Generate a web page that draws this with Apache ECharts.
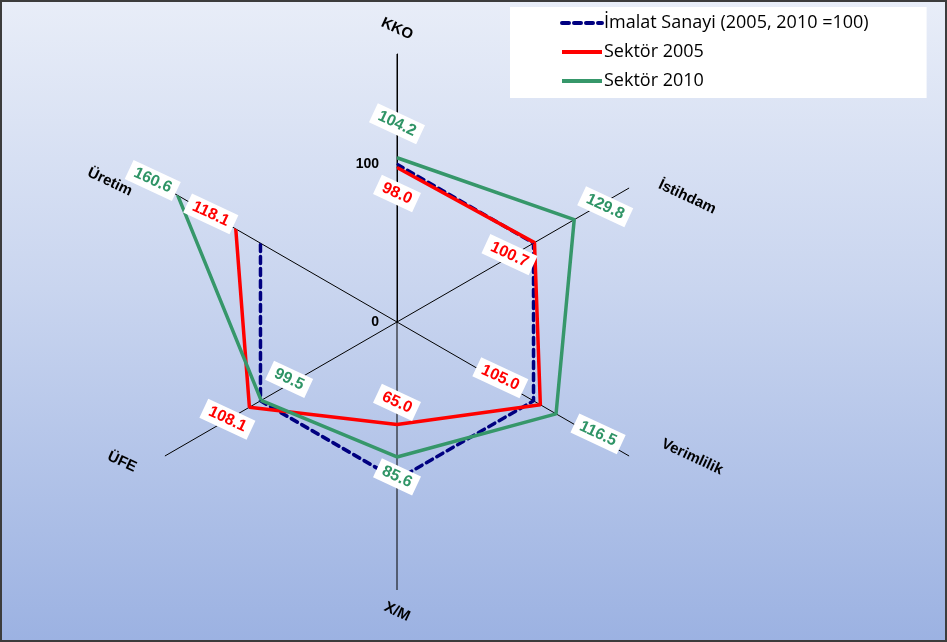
<!DOCTYPE html>
<html>
<head>
<meta charset="utf-8">
<script src="https://cdn.jsdelivr.net/npm/echarts@6/dist/echarts.min.js"></script>
<style>
  html, body { margin: 0; padding: 0; background: #ffffff; }
  #chart {
    width: 943px;
    height: 638px;
    border: 2px solid #3c3c3c;
    background: linear-gradient(to bottom, #e8edf8 0%, #c9d5ef 45%, #9cb2e2 100%);
  }
</style>
</head>
<body>
<div id="chart"></div>
<script>
// axes, clockwise from the top
const axisNames = ['KKO', 'İstihdam', 'Verimlilik', 'X/M', 'ÜFE', 'Üretim']
const seriesNames = ['İmalat Sanayi (2005, 2010 =100)', 'Sektör 2005', 'Sektör 2010']
const imalat = [100, 100, 100, 100, 100, 100]
const sektor2005 = [98.0, 100.7, 105.0, 65.0, 108.1, 118.1]
const sektor2010 = [104.2, 129.8, 116.5, 85.6, 99.5, 160.6]
const radiusTicks = [0, 100]
const radiusMax = 170

// label offsets (screen px) from each vertex / axis end
const offset2005 = [[0, 26], [-25, 12], [-40, -27], [0, -22], [-22, 12], [-25, -15]]
const offset2010 = [[0, -34], [31, -13], [42, 20], [0, 20], [28, -21], [-25, -15]]
const nameOffset = [[0, -25], [58, 9], [63, 1], [0, 22], [-43, 6], [-55, -6]]
const labelRotate = -25

const chart = echarts.init(document.getElementById('chart'))

// offsets are applied in the label's rotated frame, so turn them back first
function unrotate (o) {
  const a = -labelRotate * Math.PI / 180
  const c = Math.cos(a)
  const s = Math.sin(a)
  return [o[0] * c + o[1] * s, -o[0] * s + o[1] * c]
}

// close the polygon by repeating the first vertex
function ring (values, color, offsets) {
  const pts = values.map(function (v, i) {
    const item = { value: [v, i] }
    if (offsets) {
      item.label = {
        show: true,
        position: 'inside',
        offset: unrotate(offsets[i]),
        rotate: labelRotate,
        color: color,
        fontFamily: 'Liberation Sans',
        fontWeight: 'bold',
        fontSize: 16,
        backgroundColor: '#ffffff',
        padding: [3, 6, 2, 6],
        formatter: function (p) { return p.value[0].toFixed(1) }
      }
    }
    return item
  })
  pts.push({ value: [values[0], 0] })
  return pts
}

chart.setOption({
  animation: false,
  polar: {
    center: [395, 320],
    radius: 268
  },
  angleAxis: {
    type: 'category',
    data: axisNames,
    startAngle: 90,
    clockwise: true,
    boundaryGap: false,
    axisLine: { show: false },
    axisTick: { show: false },
    axisLabel: { show: false },
    splitLine: {
      show: true,
      lineStyle: { color: '#000000', width: 1 }
    }
  },
  radiusAxis: {
    type: 'value',
    min: 0,
    max: radiusMax,
    interval: 10,
    axisLine: { show: true, lineStyle: { color: '#000000' } },
    axisTick: { show: false },
    splitLine: { show: false },
    axisLabel: {
      margin: 18,
      color: '#000000',
      fontFamily: 'Liberation Sans',
      fontWeight: 'bold',
      fontSize: 14,
      formatter: function (v) { return radiusTicks.indexOf(v) >= 0 ? String(v) : '' }
    }
  },
  legend: {
    orient: 'vertical',
    left: 508,
    top: 5,
    padding: [7, 58, 8, 50],
    itemGap: 11,
    itemWidth: 40,
    itemHeight: 17,
    backgroundColor: '#ffffff',
    itemStyle: { opacity: 0 },
    lineStyle: { width: 4 },
    textStyle: {
      fontFamily: 'Open Sans',
      fontSize: 18,
      color: '#000000',
      padding: [0, 0, 0, -3]
    },
    data: seriesNames
  },
  series: [
    {
      name: seriesNames[0],
      type: 'line',
      coordinateSystem: 'polar',
      symbol: 'circle',
      symbolSize: 1,
      lineStyle: { color: '#000080', width: 3.5, type: [7, 5], cap: 'round' },
      itemStyle: { color: '#000080' },
      data: ring(imalat, '#000080', null)
    },
    {
      name: seriesNames[1],
      type: 'line',
      coordinateSystem: 'polar',
      symbol: 'circle',
      symbolSize: 1,
      lineStyle: { color: '#ff0000', width: 3.5 },
      itemStyle: { color: '#ff0000' },
      data: ring(sektor2005, '#ff0000', offset2005)
    },
    {
      name: seriesNames[2],
      type: 'line',
      coordinateSystem: 'polar',
      symbol: 'circle',
      symbolSize: 1,
      lineStyle: { color: '#36976a', width: 3.5 },
      itemStyle: { color: '#36976a' },
      data: ring(sektor2010, '#2f9466', offset2010)
    },
    {
      // axis names, placed at the outer end of each spoke
      name: 'axisNames',
      type: 'scatter',
      coordinateSystem: 'polar',
      symbolSize: 1,
      silent: true,
      itemStyle: { color: 'transparent' },
      label: {
        show: true,
        position: 'inside',
        rotate: labelRotate,
        color: '#000000',
        opacity: 1,
        fontFamily: 'Liberation Sans',
        fontWeight: 'bold',
        fontSize: 15,
        formatter: function (p) { return axisNames[p.value[1]] }
      },
      data: axisNames.map(function (n, i) {
        return { value: [radiusMax, i], label: { offset: unrotate(nameOffset[i]) } }
      })
    }
  ]
})
</script>
</body>
</html>
